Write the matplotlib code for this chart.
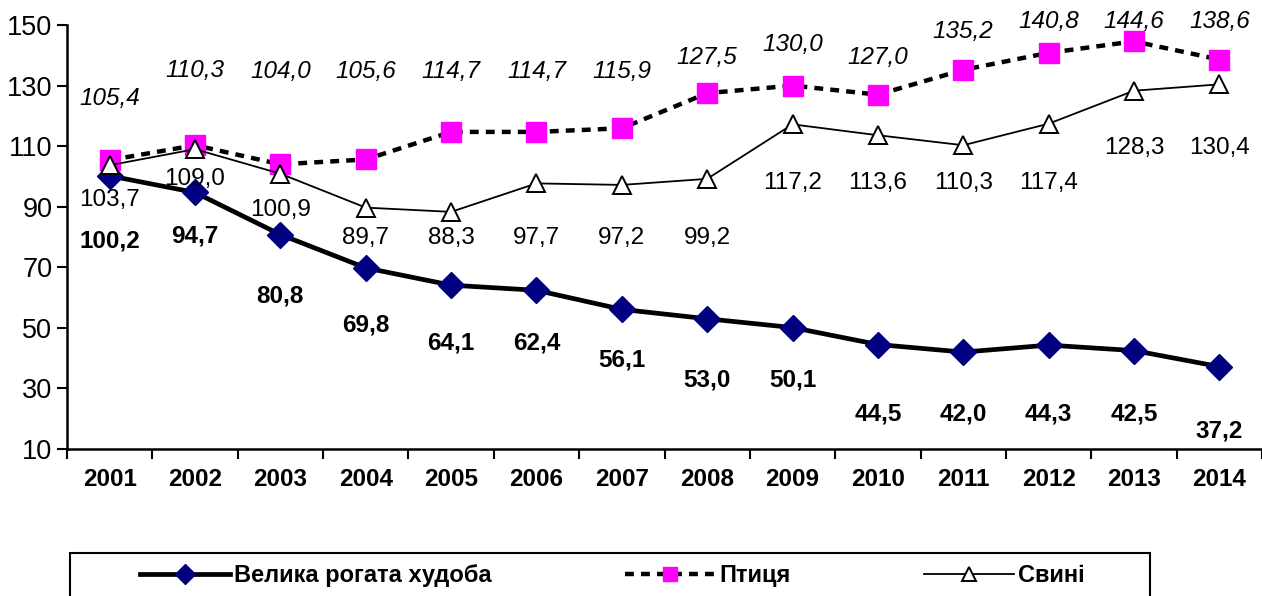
import matplotlib.pyplot as plt
import matplotlib.patches as mpatches
import numpy as np

plt.rcParams['font.family'] = ['Liberation Sans', 'DejaVu Sans']

# data
years = ['2001', '2002', '2003', '2004', '2005', '2006', '2007',
         '2008', '2009', '2010', '2011', '2012', '2013', '2014']
cattle = [100.2, 94.7, 80.8, 69.8, 64.1, 62.4, 56.1, 53.0, 50.1, 44.5, 42.0, 44.3, 42.5, 37.2]
poultry = [105.4, 110.3, 104.0, 105.6, 114.7, 114.7, 115.9, 127.5, 130.0, 127.0, 135.2, 140.8, 144.6, 138.6]
pigs = [103.7, 109.0, 100.9, 89.7, 88.3, 97.7, 97.2, 99.2, 117.2, 113.6, 110.3, 117.4, 128.3, 130.4]

# label heights (data units), as placed in the original
cattle_lab_y = [78.7, 80.3, 60.5, 50.9, 45.0, 45.0, 39.4, 32.8, 32.8, 21.6, 21.6, 21.6, 21.6, 15.9]
poultry_lab_y = [125.6, 135.1, 134.5, 134.5, 134.5, 134.5, 134.5, 139.4, 143.7, 139.4, 147.7, 151.0, 151.0, 151.0]
pigs_lab_y = [92.2, 99.2, 88.9, 79.7, 79.7, 79.7, 79.7, 79.7, 97.8, 97.8, 97.8, 97.8, 109.4, 109.4]


def fmt(v):
    return f"{v:.1f}".replace('.', ',')


W, H = 1262, 596
x = np.arange(len(years))
fig = plt.figure(figsize=(W / 100, H / 100), dpi=100)
ax = fig.add_axes([67 / W, 1 - 449 / H, 1 - 67 / W, (449 - 25) / H])

ax.plot(x, cattle, '-', color='black', lw=3.4, marker='D', ms=13,
        mfc='#000080', mec='#000080', label='Велика рогата худоба', zorder=3)
ax.plot(x, poultry, '--', color='black', lw=3.2, dashes=(2, 1.6), marker='s', ms=14,
        mfc='#ff00ff', mec='#ff00ff', label='Птиця', zorder=4)
ax.plot(x, pigs, '-', color='black', lw=1.3, marker='^', ms=13,
        mfc='white', mec='black', mew=1.4, label='Свині', zorder=5)

for i in x:
    ax.text(i, cattle_lab_y[i], fmt(cattle[i]), ha='center', va='center',
            fontsize=17.5, fontweight='bold', clip_on=False)
    ax.text(i, poultry_lab_y[i], fmt(poultry[i]), ha='center', va='center',
            fontsize=17.5, fontstyle='italic', clip_on=False)
    ax.text(i, pigs_lab_y[i], fmt(pigs[i]), ha='center', va='center',
            fontsize=17.5, clip_on=False)

ax.set_xlim(-0.5, len(years) - 0.5)
ax.set_ylim(10, 150)
ax.set_yticks(range(10, 151, 20))
ax.tick_params(axis='y', labelsize=19.5, direction='out', length=7, width=1.5)
ax.set_xticks(x)
ax.set_xticklabels(years, fontsize=17.5, fontweight='bold')
ax.tick_params(axis='x', length=0, pad=14)
ax.set_xticks(np.arange(len(years) + 1) - 0.5, minor=True)
ax.tick_params(axis='x', which='minor', direction='out', length=7, width=1.5)
ax.spines['top'].set_visible(False)
ax.spines['right'].set_visible(False)
ax.spines['left'].set_linewidth(1.8)
ax.spines['bottom'].set_linewidth(1.8)

# legend entries, with a separate frame box like the original
leg = fig.legend(loc='upper left', bbox_to_anchor=(140 / W, 1 - 564 / H - 0.1, 945 / W, 0.1),
                 mode='expand', ncol=3, handlelength=3.8, handletextpad=0.2,
                 prop={'weight': 'bold', 'size': 17}, frameon=False,
                 borderaxespad=0, borderpad=0, markerscale=0.75)
frame = mpatches.Rectangle((70 / W, -0.02), 1080 / W, 0.02 + 1 - 553 / H,
                           transform=fig.transFigure, fill=False,
                           edgecolor='black', lw=1.5)
fig.patches.append(frame)

plt.savefig('out.png', dpi=100)
